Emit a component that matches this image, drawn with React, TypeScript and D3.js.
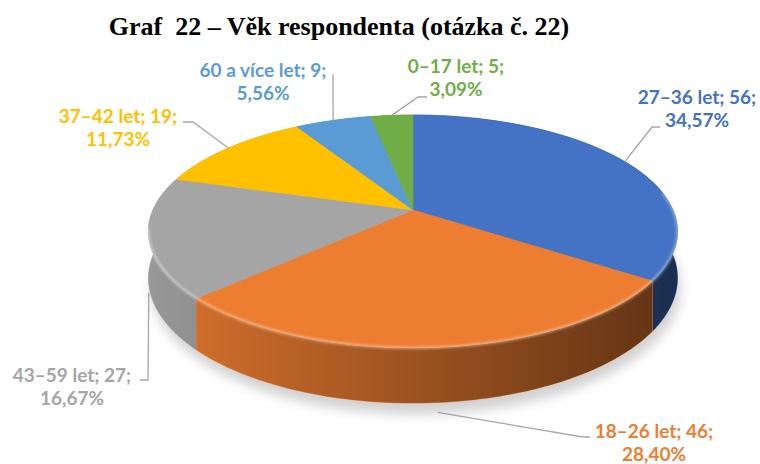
import React from "react";
import * as d3 from "d3";

const categories = ["27–36 let", "18–26 let", "43–59 let", "37–42 let", "60 a více let", "0–17 let"];
const counts = [56, 46, 27, 19, 9, 5];
const percents = ["34,57%", "28,40%", "16,67%", "11,73%", "5,56%", "3,09%"];
const colors = ["#4472C4", "#ED7D31", "#A5A5A5", "#FFC000", "#5B9BD5", "#70AD47"];

const title = "Graf  22 – Věk respondenta (otázka č. 22)";

const width = 760;
const height = 464;

// tilted disc seen in perspective
const cx = 413;
const cy = 210;
const rx = 260;
const ry = 112.5;
const persp = -0.1845;
const depth = 45;

// label placement (text centre / first baseline) and leader bends, in slice order
const labelLayout = [
  { x: 697, y: 104, bends: [[652, 127], [660, 127]] },
  { x: 654, y: 438, bends: [[583, 437], [590, 437]] },
  { x: 72, y: 382, bends: [[148, 380], [140, 380]] },
  { x: 118, y: 123, bends: [[193, 122], [183, 122]] },
  { x: 263, y: 77, bends: [[333, 74]] },
  { x: 456, y: 73, bends: [[418, 97], [427, 97]] },
];

const project = (t: number, drop = 0): [number, number] => {
  const u = Math.sin(t);
  const v = -Math.cos(t);
  const w = 1 + persp * v;
  return [cx + (rx * u) / w, cy + (ry * v + drop) / w];
};

const steps = (a0: number, a1: number, n = 80) => d3.range(n + 1).map((i) => a0 + ((a1 - a0) * i) / n);

const App: React.FC = () => {
  const arcs = d3.pie<number>().sort(null).value((d) => d)(counts);
  const line = d3.line();
  const mid = (a: d3.PieArcDatum<number>) => (a.startAngle + a.endAngle) / 2;

  const topPath = (a: d3.PieArcDatum<number>) =>
    line([[cx, cy], ...steps(a.startAngle, a.endAngle).map((t) => project(t))]) + "Z";

  const sidePath = (a: d3.PieArcDatum<number>) => {
    const ts = steps(a.startAngle, a.endAngle);
    return (
      line([...ts.map((t) => project(t)), ...ts.slice().reverse().map((t) => project(t, depth))]) + "Z"
    );
  };

  // back walls first
  const order = arcs.map((_, i) => i).sort((i, j) => -Math.cos(mid(arcs[i])) + Math.cos(mid(arcs[j])));

  const shadow = line(steps(0, 2 * Math.PI, 160).map((t) => project(t, depth + 4))) + "Z";
  const rim = line(steps(Math.PI * 0.45, Math.PI * 1.45).map((t) => project(t)));

  const leader = (a: d3.PieArcDatum<number>, i: number) => {
    const m = mid(a);
    const start = -Math.cos(m) > 0 ? project(m, depth + 8) : project(m);
    return line([start, ...(labelLayout[i].bends as [number, number][])]);
  };

  return (
    <div style={{ position: "absolute", left: 0, top: 0 }}>
      <svg width={width} height={height} style={{ display: "block", background: "#fff" }}>
        <defs>
          <linearGradient id="sideShade" gradientUnits="userSpaceOnUse" x1={148} x2={678} y1={0} y2={0}>
            <stop offset="0" stopColor="#000" stopOpacity={0.08} />
            <stop offset="1" stopColor="#000" stopOpacity={0.6} />
          </linearGradient>
          <filter id="blur6" x="-20%" y="-20%" width="140%" height="140%">
            <feGaussianBlur stdDeviation={6} />
          </filter>
          <filter id="blur1" x="-5%" y="-5%" width="110%" height="110%">
            <feGaussianBlur stdDeviation={1.2} />
          </filter>
        </defs>

        <text
          x={339}
          y={35}
          textAnchor="middle"
          fontFamily="'Liberation Serif', 'Times New Roman', serif"
          fontWeight="bold"
          fontSize={26}
          style={{ whiteSpace: "pre" }}
          fill="#000"
        >
          {title}
        </text>

        <path d={shadow} transform="translate(3,6)" fill="#000" opacity={0.18} filter="url(#blur6)" />

        {order.map((i) => (
          <g key={"side" + i}>
            <path d={sidePath(arcs[i])} fill={colors[i]} stroke={colors[i]} strokeWidth={0.6} />
            <path d={sidePath(arcs[i])} fill="url(#sideShade)" />
          </g>
        ))}

        {arcs.map((a, i) => (
          <path key={"top" + i} d={topPath(a)} fill={colors[i]} stroke={colors[i]} strokeWidth={0.6} />
        ))}

        <path d={rim ?? ""} fill="none" stroke="#fff" strokeOpacity={0.35} strokeWidth={3} filter="url(#blur1)" />

        {arcs.map((a, i) => (
          <path key={"lead" + i} d={leader(a, i) ?? ""} fill="none" stroke="#A6A6A6" strokeWidth={1.3} />
        ))}

        {arcs.map((a, i) => (
          <text
            key={"lab" + i}
            x={labelLayout[i].x}
            y={labelLayout[i].y}
            textAnchor="middle"
            fontFamily="Lato, 'Open Sans', sans-serif"
            fontWeight="bold"
            fontSize={19}
            fill={colors[i]}
          >
            <tspan x={labelLayout[i].x}>{`${categories[i]}; ${a.data};`}</tspan>
            <tspan x={labelLayout[i].x} dy={23}>
              {percents[i]}
            </tspan>
          </text>
        ))}
      </svg>
    </div>
  );
};

export default App;
